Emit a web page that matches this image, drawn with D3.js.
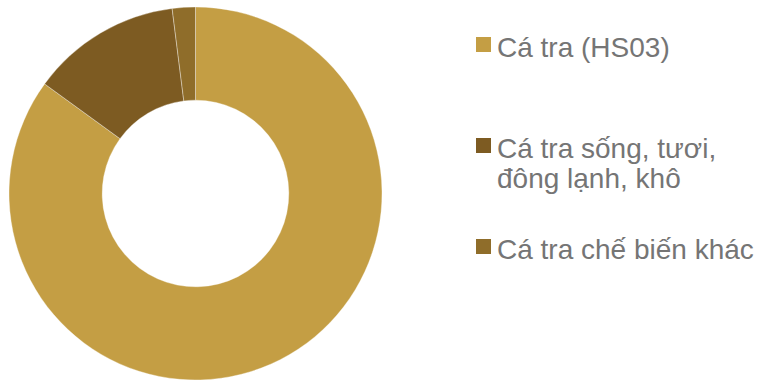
<!DOCTYPE html>
<html>
<head>
<meta charset="utf-8">
<script src="https://cdn.jsdelivr.net/npm/d3@7"></script>
<style>
  html, body { margin: 0; padding: 0; background: #ffffff; }
  svg { display: block; }
</style>
</head>
<body>
<svg id="chart" width="760" height="381"></svg>
<script>
// Share of pangasius export value by product group (%)
const categories = ["Cá tra (HS03)", "Cá tra sống, tươi, đông lạnh, khô", "Cá tra chế biến khác"];
const shares = [85, 13, 2];
const colors = ["#C49E44", "#7D5B22", "#8F6D2A"];

const svg = d3.select("#chart");
const W = 760, H = 381;

// Donut
const cx = 195.5, cy = 193.5;
const outerR = 186.5, innerR = 93.3;

const pie = d3.pie().sort(null).value(d => d.value);
const arc = d3.arc().innerRadius(innerR).outerRadius(outerR);

const data = categories.map((c, i) => ({ name: c, value: shares[i], color: colors[i] }));

svg.append("g")
  .attr("transform", `translate(${cx},${cy})`)
  .selectAll("path")
  .data(pie(data))
  .join("path")
  .attr("d", arc)
  .attr("fill", d => d.data.color)
  .attr("stroke", "#ffffff")
  .attr("stroke-opacity", 0.6)
  .attr("stroke-width", 0.6);

// Legend
const legendX = 476, textX = 497;
const firstBaseline = 57, rowStep = 101, lineHeight = 30;
const fontSize = 28, maxTextWidth = W - textX - 1;
const font = `${fontSize}px "Liberation Sans", Arial, sans-serif`;

const ctx = document.createElement("canvas").getContext("2d");
ctx.font = font;
function wrap(text) {
  const words = text.split(" ");
  const lines = [];
  let line = "";
  words.forEach(w => {
    const test = line ? line + " " + w : w;
    if (line && ctx.measureText(test).width > maxTextWidth) {
      lines.push(line);
      line = w;
    } else {
      line = test;
    }
  });
  if (line) lines.push(line);
  return lines;
}

const legend = svg.append("g")
  .selectAll("g")
  .data(data)
  .join("g")
  .attr("transform", (d, i) => `translate(0,${firstBaseline + i * rowStep})`);

legend.append("rect")
  .attr("x", legendX)
  .attr("y", -20)
  .attr("width", 15)
  .attr("height", 15)
  .attr("fill", d => d.color);

legend.append("text")
  .attr("x", textX)
  .attr("y", 0)
  .style("font", font)
  .attr("fill", "#757575")
  .each(function(d) {
    d3.select(this).selectAll("tspan")
      .data(wrap(d.name))
      .join("tspan")
      .attr("x", textX)
      .attr("dy", (l, j) => j === 0 ? 0 : lineHeight)
      .text(l => l);
  });
</script>
</body>
</html>
